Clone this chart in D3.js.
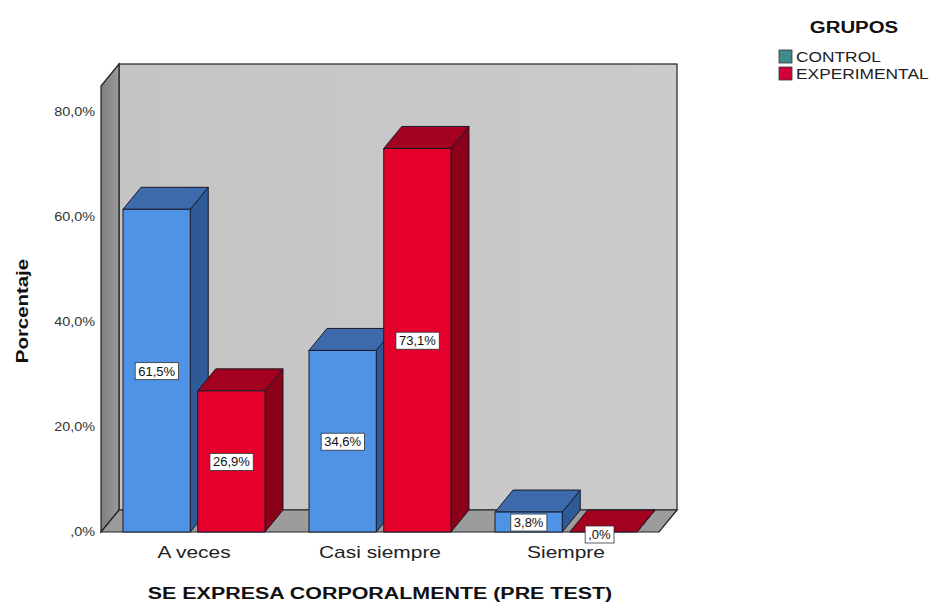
<!DOCTYPE html>
<html>
<head>
<meta charset="utf-8">
<script src="https://cdn.jsdelivr.net/npm/d3@7"></script>
<style>
  body { margin: 0; background: #fff; }
  svg { font-family: "Liberation Sans", Arial, sans-serif; }
</style>
</head>
<body>
<div id="chart"></div>
<script>
// data
var categories = ["A veces", "Casi siempre", "Siempre"];
var groups = ["CONTROL", "EXPERIMENTAL"];
var controlValues = [61.5, 34.6, 3.8];
var experimentalValues = [26.9, 73.1, 0.0];
var yTicks = [0, 20, 40, 60, 80];

var W = 931, H = 606;
var depthX = 18, depthY = -22;

var svg = d3.select("#chart").append("svg")
    .attr("width", W).attr("height", H);

var x0 = d3.scaleBand().domain(categories).range([101, 659]).paddingInner(0);
var x1 = d3.scaleBand().domain(groups).range([22, 164]).paddingInner(0.1);
var y = d3.scaleLinear().domain([0, 85]).range([532, 86]);

var fmt = function(v) {
  var s = d3.format(".1f")(v).replace(".", ",");
  if (s.indexOf("0,") === 0) s = s.substring(1);
  return s + "%";
};

// text that is a bit wider than the font gives (the original is stretched)
function wideText(sel, x, y, sx, rot) {
  return sel.append("text")
    .attr("transform", "translate(" + x + "," + y + ")" + (rot ? " rotate(" + rot + ")" : "") + " scale(" + sx + ",1)");
}

var faceCols = {
  "CONTROL": {front: "#4e93e6", top: "#3d6aaa", side: "#2e5a98"},
  "EXPERIMENTAL": {front: "#e4002b", top: "#a4001f", side: "#8a0019"}
};

// gradients for walls
var defs = svg.append("defs");
var gw = defs.append("linearGradient").attr("id", "wallGrad").attr("x1", 0).attr("x2", 1).attr("y1", 0).attr("y2", 0);
gw.append("stop").attr("offset", "0%").attr("stop-color", "#c4c4c4");
gw.append("stop").attr("offset", "100%").attr("stop-color", "#cbcbcb");
var gl = defs.append("linearGradient").attr("id", "leftGrad").attr("x1", 0).attr("x2", 1).attr("y1", 0).attr("y2", 0);
gl.append("stop").attr("offset", "0%").attr("stop-color", "#7e7e7e");
gl.append("stop").attr("offset", "100%").attr("stop-color", "#9a9a9a");

var xL = x0.range()[0], xR = x0.range()[1];
var yT = y(85), yB = y(0);

// back wall
svg.append("rect")
  .attr("x", xL + depthX).attr("y", yT + depthY)
  .attr("width", xR - xL).attr("height", yB - yT)
  .attr("fill", "url(#wallGrad)")
  .attr("stroke", "#222").attr("stroke-width", 1.2);

// left wall
svg.append("polygon")
  .attr("points", [[xL, yT], [xL + depthX, yT + depthY], [xL + depthX, yB + depthY], [xL, yB]].join(" "))
  .attr("fill", "url(#leftGrad)")
  .attr("stroke", "#222").attr("stroke-width", 1.2);

// floor
svg.append("polygon")
  .attr("points", [[xL, yB], [xR, yB], [xR + depthX, yB + depthY], [xL + depthX, yB + depthY]].join(" "))
  .attr("fill", "#9c9c9c")
  .attr("stroke", "#222").attr("stroke-width", 1.2);

// bars
var data = [];
categories.forEach(function(c, i) {
  data.push({cat: c, grp: "CONTROL", v: controlValues[i]});
  data.push({cat: c, grp: "EXPERIMENTAL", v: experimentalValues[i]});
});

var bw = x1.bandwidth();
var bars = svg.append("g").selectAll("g").data(data).enter().append("g");

bars.each(function(d) {
  var g = d3.select(this);
  var bx = x0(d.cat) + x1(d.grp);
  var by = y(d.v);
  var col = faceCols[d.grp];
  // side face
  g.append("polygon")
    .attr("points", [[bx + bw, by], [bx + bw + depthX, by + depthY], [bx + bw + depthX, yB + depthY], [bx + bw, yB]].join(" "))
    .attr("fill", col.side).attr("stroke", "#1a1a2a").attr("stroke-width", 1);
  // top face
  g.append("polygon")
    .attr("points", [[bx, by], [bx + bw, by], [bx + bw + depthX, by + depthY], [bx + depthX, by + depthY]].join(" "))
    .attr("fill", col.top).attr("stroke", "#1a1a2a").attr("stroke-width", 1);
  // front face
  if (yB - by > 0) {
    g.append("rect")
      .attr("x", bx).attr("y", by).attr("width", bw).attr("height", yB - by)
      .attr("fill", col.front).attr("stroke", "#1a1a2a").attr("stroke-width", 1);
  }
});

// value labels
bars.each(function(d) {
  var g = d3.select(this);
  var cx = x0(d.cat) + x1(d.grp) + bw / 2;
  var cy = (y(d.v) + yB) / 2;
  if (d.v === 0) { cx -= 4; cy += 2; }
  var t = g.append("text")
    .attr("x", cx).attr("y", cy + 5)
    .attr("text-anchor", "middle")
    .attr("font-size", 13).attr("fill", "#111")
    .text(fmt(d.v));
  var bb = t.node().getBBox();
  g.insert("rect", "text")
    .attr("x", bb.x - 3).attr("y", bb.y - 1)
    .attr("width", bb.width + 6).attr("height", bb.height + 2)
    .attr("fill", "#fff").attr("stroke", "#333").attr("stroke-width", 0.8);
});

// y axis tick labels
var yt = svg.append("g");
yTicks.forEach(function(d) {
  wideText(yt, 95, y(d) + 4, 1.2)
    .attr("text-anchor", "end")
    .attr("font-size", 12).attr("fill", "#333")
    .text(fmt(d));
});

// x category labels
var xt = svg.append("g");
categories.forEach(function(d) {
  wideText(xt, x0(d) + x0.bandwidth() / 2, 558, 1.23)
    .attr("text-anchor", "middle")
    .attr("font-size", 17).attr("fill", "#222")
    .text(d);
});

// axis titles
wideText(svg, 380, 599, 1.26)
  .attr("text-anchor", "middle")
  .attr("font-size", 17).attr("font-weight", "bold").attr("fill", "#111")
  .text("SE EXPRESA CORPORALMENTE (PRE TEST)");

wideText(svg, 28, 311, 1.2, -90)
  .attr("text-anchor", "middle")
  .attr("font-size", 17).attr("font-weight", "bold").attr("fill", "#111")
  .text("Porcentaje");

// legend
var legendCols = ["#3f8c8a", "#d2003a"];
wideText(svg, 854, 33, 1.2)
  .attr("text-anchor", "middle")
  .attr("font-size", 17).attr("font-weight", "bold").attr("fill", "#111")
  .text("GRUPOS");

var leg = svg.append("g").selectAll("g").data(groups).enter().append("g")
  .attr("transform", function(d, i) { return "translate(779," + (50 + i * 17) + ")"; });
leg.append("rect")
  .attr("width", 13).attr("height", 13)
  .attr("fill", function(d, i) { return legendCols[i]; })
  .attr("stroke", "#333").attr("stroke-width", 0.8);
leg.append("text")
  .attr("transform", "translate(17,12) scale(1.24,1)")
  .attr("font-size", 14).attr("fill", "#222")
  .text(function(d) { return d; });
</script>
</body>
</html>
